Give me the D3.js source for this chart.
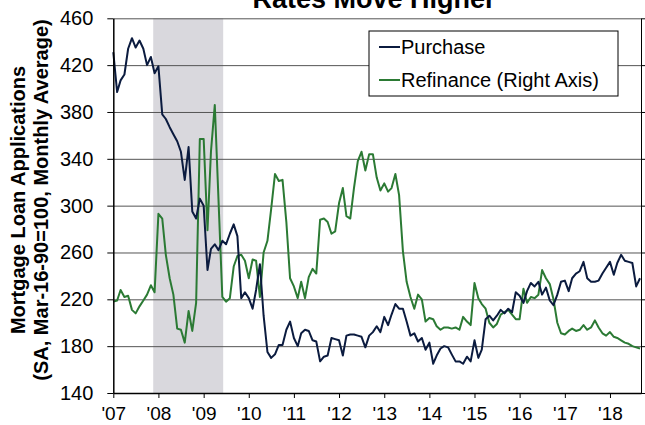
<!DOCTYPE html>
<html lang="en">
<head>
   <meta charset="UTF-8">
   <title>Rates Move Higher</title>
   <style>
      html, body {
         margin: 0;
         padding: 0;
         overflow: hidden;
         background: #fff;
      }

      text {
         font-family: Arial, 'Liberation Sans', sans-serif;
         fill: #000;
      }

      .grid line {
         stroke: #555;
      }

      .axis .domain, .axis line {
         stroke: #000;
      }
   </style>
   <script src="https://cdn.jsdelivr.net/npm/d3@7/dist/d3.min.js"></script>
</head>
<body>
   <div class="chart"></div>
   <script>
      // monthly values, Jan 2007 .. Sep 2018
      const startYear = 2007
      const purchase = [
         431, 397, 407, 412, 434, 443, 435, 441, 434, 420, 427, 413,
         419, 378, 374, 367, 361, 355, 346, 322, 350, 295, 289, 306,
         300, 245, 263, 267, 262, 270, 267, 276, 284, 274, 221, 226,
         221, 212, 228, 250, 206, 175, 170, 173, 181, 181, 194, 201,
         187, 180, 191, 194, 193, 185, 184, 167, 171, 172, 187, 186,
         185, 172, 189, 190, 190, 189, 188, 179, 189, 192, 197, 192,
         205, 198, 207, 216, 212, 212, 201, 189, 191, 184, 187, 177,
         183, 165, 172, 178, 180, 179, 173, 167, 167, 165, 171, 167,
         185, 170, 177, 203, 206, 202, 206, 211, 208, 212, 209, 226,
         223, 217, 227, 234, 231, 235, 224, 230, 219, 215, 224, 235,
         236, 227, 238, 242, 244, 252, 238, 235, 235, 236, 242, 247,
         252, 241, 251, 258, 253, 252, 251, 231, 238
      ]
      // refinance, read in left axis units (its own axis is off the picture)
      const refinance = [
         218, 219, 228, 222, 223, 211, 208, 214, 219, 224, 232, 226,
         293, 289, 258, 238, 224, 195, 194, 183, 210, 193, 217, 357,
         357, 279, 346, 386, 305, 222, 218, 221, 248, 257, 258, 253,
         238, 254, 253, 222, 260, 270, 297, 327, 321, 322, 286, 238,
         231, 221, 235, 221, 239, 246, 242, 288, 289, 286, 276, 278,
         302, 315, 291, 289, 315, 338, 346, 330, 344, 344, 324, 313,
         319, 312, 315, 327, 309, 261, 235, 222, 212, 224, 220, 201,
         204, 203, 197, 194, 196, 196, 195, 196, 194, 205, 201, 198,
         234, 221, 216, 212, 200, 196, 199, 207, 209, 211, 207, 203,
         203, 229, 217, 222, 221, 224, 245, 238, 233, 220, 200, 191,
         190, 193, 195, 193, 194, 198, 194, 196, 202, 196, 191, 189,
         192, 188, 187, 185, 183, 182, 180, 179, 178
      ]
      const recession = [new Date(2007, 10, 20), new Date(2009, 5, 8)]
      const yTicks = [140, 180, 220, 260, 300, 340, 380, 420, 460]
      const xTickYears = d3.range(2007, 2019)
      const seriesNames = ['Purchase', 'Refinance (Right Axis)']
      const seriesColors = ['#0b1b3f', '#2b7a34']

      const WIDTH = 645
      const HEIGHT = 425
      const plot = { left: 113.3, right: 641, top: 18.3, bottom: 393 }

      const svg = d3.select('.chart').append('svg')
         .attr('width', WIDTH)
         .attr('height', HEIGHT)

      // scales
      const xScale = d3.scaleTime()
         .domain([new Date(2007, 0, 1), new Date(2018, 8, 9)])
         .range([plot.left, plot.right])

      const yScale = d3.scaleLinear()
         .domain([140, 460])
         .range([plot.bottom, plot.top])

      const yRight = d3.scaleLinear()
         .domain([140, 460])
         .range([plot.bottom, plot.top])

      const dateOf = i => new Date(startYear, i, 1)

      // recession shading
      svg.append('rect')
         .attr('x', xScale(recession[0]))
         .attr('y', plot.top)
         .attr('width', xScale(recession[1]) - xScale(recession[0]))
         .attr('height', plot.bottom - plot.top)
         .attr('fill', '#d9d8dd')

      // grid
      const grid = svg.append('g')
         .attr('class', 'grid')
         .attr('transform', `translate(${plot.left}, 0)`)
         .call(d3.axisLeft(yScale)
            .tickValues(yTicks.slice(1))
            .tickSize(-(plot.right - plot.left))
            .tickFormat(''))
      grid.select('.domain').remove()

      // lines
      const line = d3.line()
         .x((d, i) => xScale(dateOf(i)))
         .y(d => yScale(d))

      svg.append('path')
         .datum(refinance)
         .attr('fill', 'none')
         .attr('stroke', seriesColors[1])
         .attr('stroke-width', 2)
         .attr('stroke-linejoin', 'round')
         .attr('d', line.y(d => yRight(d)))

      svg.append('path')
         .datum(purchase)
         .attr('fill', 'none')
         .attr('stroke', seriesColors[0])
         .attr('stroke-width', 2)
         .attr('stroke-linejoin', 'round')
         .attr('d', line.y(d => yScale(d)))

      // axes
      const yAxis = svg.append('g')
         .attr('class', 'axis')
         .attr('transform', `translate(${plot.left}, 0)`)
         .call(d3.axisLeft(yScale)
            .tickValues(yTicks)
            .tickSize(6)
            .tickSizeOuter(0)
            .tickPadding(14))
      yAxis.selectAll('.tick line').attr('stroke', '#555')
      yAxis.select('.domain').attr('stroke-width', 1.5)
      yAxis.selectAll('text')
         .style('font-size', '20px')

      const rAxis = svg.append('g')
         .attr('class', 'axis')
         .attr('transform', `translate(${plot.right}, 0)`)
         .call(d3.axisRight(yRight)
            .tickValues(yTicks)
            .tickSize(5)
            .tickSizeOuter(0)
            .tickFormat(''))
      rAxis.selectAll('.tick line').attr('stroke', '#555')

      const xAxis = svg.append('g')
         .attr('class', 'axis')
         .attr('transform', `translate(0, ${plot.bottom})`)
         .call(d3.axisBottom(xScale)
            .tickValues(xTickYears.map(y => new Date(y, 0, 1)))
            .tickSize(5)
            .tickSizeOuter(0)
            .tickPadding(9)
            .tickFormat(d3.timeFormat("'%y")))
      xAxis.select('.domain').attr('stroke-width', 1.5)
      xAxis.selectAll('text')
         .style('font-size', '19px')

      // title, partly above the top edge as in the source picture
      svg.append('text')
         .attr('x', 374)
         .attr('y', 7.5)
         .attr('text-anchor', 'middle')
         .style('font-size', '27px')
         .style('font-weight', 'bold')
         .text('Rates Move Higher')

      // y axis title
      const yTitle = svg.append('g')
         .attr('transform', 'translate(0, 200) rotate(-90)')
         .style('font-size', '20px')
         .style('font-weight', 'bold')
         .attr('text-anchor', 'middle')
      yTitle.append('text')
         .attr('y', 25)
         .text('Mortgage Loan Applications')
      yTitle.append('text')
         .attr('y', 48)
         .text('(SA, Mar-16-90=100, Monthly Average)')

      // legend
      const legend = svg.append('g')
         .attr('transform', 'translate(369, 31)')

      legend.append('rect')
         .attr('width', 249)
         .attr('height', 65)
         .attr('fill', '#fff')
         .attr('stroke', '#000')

      seriesNames.forEach((name, i) => {
         const row = legend.append('g')
            .attr('transform', `translate(10, ${16 + i * 33})`)
         row.append('line')
            .attr('x1', 0)
            .attr('x2', 21)
            .attr('stroke', seriesColors[i])
            .attr('stroke-width', 2)
         row.append('text')
            .attr('x', 22)
            .attr('y', 7)
            .style('font-size', '20px')
            .text(name)
      })
   </script>
</body>
</html>
